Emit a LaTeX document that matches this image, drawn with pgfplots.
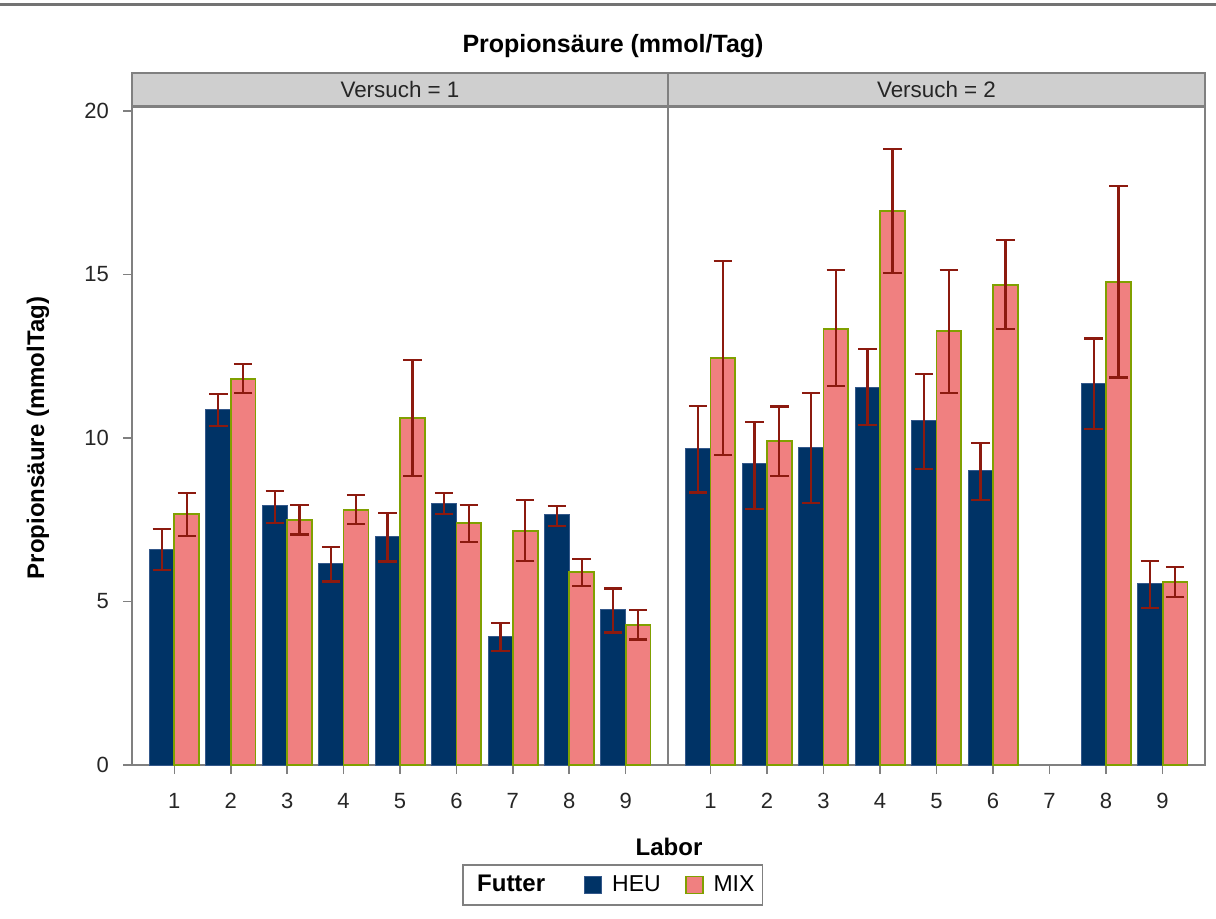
\documentclass[border=0pt]{standalone}
\usepackage{pgfplots}
\pgfplotsset{compat=1.18}
\usepackage{pgfplotstable}
\usepackage{fontspec}
\setmainfont{Liberation Sans}

\definecolor{heu}{HTML}{003366}
\definecolor{heuedge}{HTML}{34588A}
\definecolor{mix}{HTML}{F08080}
\definecolor{mixedge}{HTML}{80A000}
\definecolor{errcol}{HTML}{8C1A0F}
\definecolor{framegray}{HTML}{808080}
\definecolor{stripgray}{HTML}{CFCFCF}

% Labor, mean, upper and lower limit
\pgfplotstableread{
lab v hi lo
1 6.60 7.22 5.96
2 10.86 11.34 10.37
3 7.92 8.38 7.41
4 6.15 6.67 5.61
5 6.98 7.71 6.22
6 8.01 8.32 7.68
7 3.94 4.35 3.49
8 7.65 7.92 7.31
9 4.76 5.40 4.05
}\heuA
\pgfplotstableread{
lab v hi lo
1 7.68 8.32 7.00
2 11.80 12.25 11.38
3 7.49 7.94 7.05
4 7.80 8.26 7.38
5 10.61 12.38 8.84
6 7.39 7.95 6.83
7 7.16 8.10 6.24
8 5.90 6.29 5.48
9 4.29 4.74 3.84
}\mixA
\pgfplotstableread{
lab v hi lo
1 9.67 10.98 8.33
2 9.21 10.49 7.84
3 9.71 11.37 8.02
4 11.55 12.71 10.39
5 10.52 11.96 9.05
6 9.00 9.85 8.11
8 11.67 13.04 10.28
9 5.54 6.24 4.80
}\heuB
\pgfplotstableread{
lab v hi lo
1 12.44 15.40 9.48
2 9.91 10.96 8.84
3 13.33 15.13 11.58
4 16.95 18.84 15.05
5 13.26 15.14 11.37
6 14.68 16.06 13.32
8 14.76 17.71 11.85
9 5.60 6.05 5.14
}\mixB

\pgfplotsset{
  panel/.style={
    scale only axis, width=268pt, height=329pt,
    xmin=0.25, xmax=9.75, ymin=0, ymax=20.12,
    axis line style={draw=framegray, line width=1.2pt},
    xtick={1,...,9}, xtick pos=left,
    tick align=outside, major tick length=4.5pt,
    tick style={draw=framegray, line width=0.8pt},
    ticklabel style={font=\fontsize{11}{13}\selectfont, text=black!85},
    xticklabel style={yshift=-6pt},
    /pgf/number format/assume math mode=true,
    ybar, bar width=0.44, bar shift=0pt,
  },
  errs/.style={
    error bars/.cd, y dir=both, y explicit,
    error bar style={draw=errcol, line width=1.1pt},
    error mark options={draw=errcol, line width=1.1pt, rotate=90, mark size=4.6pt},
  },
  heubar/.style={fill=heu, draw=heuedge, line width=0.5pt, errs},
  mixbar/.style={fill=mix, draw=mixedge, line width=0.9pt, errs},
}

\begin{document}
\begin{tikzpicture}
\useasboundingbox (0,0) rectangle (608pt,459pt);

% rule across the top of the page
\draw[draw=black!55, line width=1.5pt] (0,456.5pt) -- (608pt,456.5pt);

% Versuch = 1
\begin{axis}[panel, at={(66pt,76.5pt)}, anchor=south west,
  ytick={0,5,10,15,20}, ytick pos=left,
  yticklabel style={xshift=-3.5pt},
  legend columns=3,
  legend style={at={(0.897,-0.1824)}, anchor=center,
    draw=framegray, line width=0.8pt, inner xsep=2pt, inner ysep=3pt,
    font=\fontsize{11.5}{13}\selectfont,
    /tikz/every odd column/.append style={column sep=3pt},
    /tikz/every even column/.append style={column sep=10pt}},
  legend image code/.code={\draw[#1] (0pt,-4.25pt) rectangle (8.5pt,4.25pt);},
]
\addlegendimage{empty legend}
\addlegendentry{\fontsize{12}{14}\selectfont\bfseries Futter\rule{7.5pt}{0pt}}
\addplot[heubar] table[x expr=\thisrow{lab}-0.22, y=v,
  y error plus expr=\thisrow{hi}-\thisrow{v},
  y error minus expr=\thisrow{v}-\thisrow{lo}] {\heuA};
\addlegendentry{HEU}
\addplot[mixbar] table[x expr=\thisrow{lab}+0.22, y=v,
  y error plus expr=\thisrow{hi}-\thisrow{v},
  y error minus expr=\thisrow{v}-\thisrow{lo}] {\mixA};
\addlegendentry{MIX}
\end{axis}

% Versuch = 2
\begin{axis}[panel, at={(334pt,76.5pt)}, anchor=south west,
  width=268.5pt, ytick=\empty]
\addplot[heubar] table[x expr=\thisrow{lab}-0.22, y=v,
  y error plus expr=\thisrow{hi}-\thisrow{v},
  y error minus expr=\thisrow{v}-\thisrow{lo}] {\heuB};
\addplot[mixbar] table[x expr=\thisrow{lab}+0.22, y=v,
  y error plus expr=\thisrow{hi}-\thisrow{v},
  y error minus expr=\thisrow{v}-\thisrow{lo}] {\mixB};
\end{axis}

% panel header strips
\draw[draw=framegray, line width=1.2pt, fill=stripgray]
  (66pt,405.75pt) rectangle (602.5pt,422.5pt);
\draw[draw=framegray, line width=1.2pt] (334pt,405.75pt) -- (334pt,422.5pt);
\node[font=\fontsize{11.2}{13}\selectfont, text=black!85] at (200pt,414.1pt) {Versuch = 1};
\node[font=\fontsize{11.2}{13}\selectfont, text=black!85] at (468.25pt,414.1pt) {Versuch = 2};

% titles
\node[font=\fontsize{12.5}{15}\selectfont\bfseries] at (306.5pt,436pt) {Propionsäure (mmol/Tag)};
\node[font=\fontsize{12}{14}\selectfont\bfseries] at (334.5pt,35.5pt) {Labor};
\node[font=\fontsize{12}{14}\selectfont\bfseries, rotate=90] at (19pt,240pt) {Propionsäure (mmolTag)};
\end{tikzpicture}
\end{document}
